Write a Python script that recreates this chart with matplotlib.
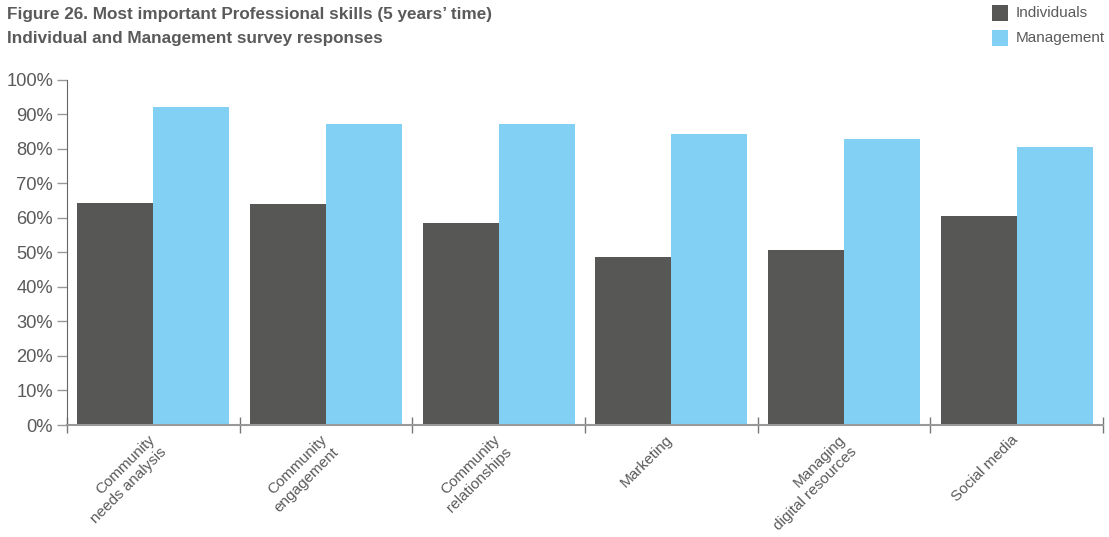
import matplotlib
matplotlib.use("Agg")
import matplotlib.pyplot as plt
import matplotlib.transforms as mtransforms
from matplotlib.patches import Rectangle

categories = ["Community\nneeds analysis", "Community\nengagement", "Community\nrelationships",
              "Marketing", "Managing\ndigital resources", "Social media"]
individuals = [64.3, 64.1, 58.6, 48.5, 50.7, 60.6]
management = [92.2, 87.2, 87.2, 84.3, 82.9, 80.6]
series_names = ["Individuals", "Management"]
yticks = [0, 10, 20, 30, 40, 50, 60, 70, 80, 90, 100]
ytick_labels = [f"{v}%" for v in yticks]
title_lines = ["Figure 26. Most important Professional skills (5 years\u2019 time)",
               "Individual and Management survey responses"]

DARK = "#575756"
BLUE = "#83D0F5"
TEXT = "#5a5a5a"

plt.rcParams['font.family'] = ['Liberation Sans', 'DejaVu Sans']

fig = plt.figure(figsize=(11.09, 5.37), dpi=100)
ax = fig.add_axes([67/1109, 1-425/537, (1103-67)/1109, (425-79.6)/537])

n = len(categories)
xs = list(range(n))
w = 0.44
ax.bar([x - w/2 for x in xs], individuals, width=w, color=DARK, label=series_names[0])
ax.bar([x + w/2 for x in xs], management, width=w, color=BLUE, label=series_names[1])

ax.set_xlim(-0.5, n - 0.5)
ax.set_ylim(0, 100)
ax.set_yticks(yticks)
ax.set_yticklabels(ytick_labels)
ax.tick_params(axis='y', direction='out', length=7, width=1, color='#999999',
               labelsize=13.2, labelcolor=TEXT, pad=3)
ax.set_xticks([i - 0.5 for i in range(n + 1)])
ax.set_xticklabels([])
ax.tick_params(axis='x', direction='inout', length=12, width=1, color='#777777')

for s in ['top', 'right']:
    ax.spines[s].set_visible(False)
ax.spines['left'].set_color('#666666')
ax.spines['bottom'].set_color('#999999')
ax.spines['bottom'].set_linewidth(1.5)

trans = mtransforms.blended_transform_factory(ax.transData, ax.transAxes)
off = mtransforms.ScaledTranslation(-6/100, -8/100, fig.dpi_scale_trans)
for i, lab in enumerate(categories):
    ax.text(i, 0, lab, transform=trans + off, rotation=45, rotation_mode='anchor',
            ha='right', va='top', multialignment='right', fontsize=11, color=TEXT,
            linespacing=1.25)

fig.text(7/1109, 1-7/537, title_lines[0], fontsize=12.3, fontweight='bold', color=TEXT,
         ha='left', va='top')
fig.text(7/1109, 1-31/537, title_lines[1], fontsize=12.3, fontweight='bold', color=TEXT,
         ha='left', va='top')

# legend
for j, (name, col) in enumerate(zip(series_names, [DARK, BLUE])):
    y0 = 1 - (21 + 25*j)/537
    fig.patches.append(Rectangle((992/1109, y0), 16/1109, 16/537, transform=fig.transFigure,
                                 facecolor=col, edgecolor='none'))
    fig.text(1016/1109, y0 + 8/537, name, fontsize=11, color=TEXT, ha='left', va='center')

fig.savefig("out.png", dpi=100)
